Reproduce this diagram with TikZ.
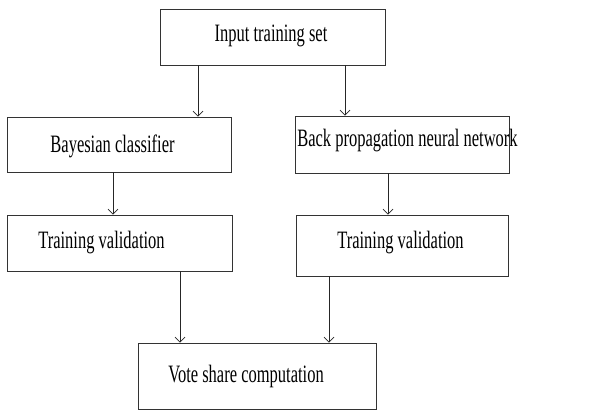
\documentclass[tikz,border=0pt]{standalone}
\usepackage{fontspec}
\setmainfont{Liberation Serif}
\usepackage{graphicx}
\usetikzlibrary{arrows.meta}
\newcommand{\sqz}[1]{\scalebox{0.66}[1]{#1}}
\begin{document}
\begin{tikzpicture}[x=1pt,y=-1pt,
  box/.style={draw=black!80,line width=0.9pt,inner sep=0pt},
  lbl/.style={inner sep=0pt,font=\fontsize{25}{28}\selectfont},
  arr/.style={draw=black!85,line width=0.8pt,-{Straight Barb[length=5pt,width=10pt,line width=0.7pt]}}]
\useasboundingbox (0,0) rectangle (593,410);
\fill[white] (0,0) rectangle (593,410);
% boxes
\node[box,minimum width=225pt,minimum height=56pt] (in) at (272.5,37) {};
\node[box,minimum width=224pt,minimum height=55pt] (bay) at (119,144.5) {};
\node[box,minimum width=214pt,minimum height=57pt] (bp) at (402,144.5) {};
\node[box,minimum width=225pt,minimum height=56pt] (tvl) at (119.5,243) {};
\node[box,minimum width=212pt,minimum height=61pt] (tvr) at (402,245.5) {};
\node[box,minimum width=238pt,minimum height=66pt] (vote) at (257,376) {};
% labels
\node[lbl] (tin) at (271,36) {\sqz{Input training set}};
\node[lbl] (tbay) at (112.5,146) {\sqz{Bayesian classifier}};
\node[lbl] (tbp) at (407.5,141) {\sqz{Back propagation neural network}};
\node[lbl] (ttvl) at (101.5,243) {\sqz{Training validation}};
\node[lbl] (ttvr) at (400.5,243) {\sqz{Training validation}};
\node[lbl] (tvote) at (246,376) {\sqz{Vote share computation}};
% arrow x positions
\coordinate (xa) at (198,0);
\coordinate (xb) at (345,0);
\coordinate (xc) at (113,0);
\coordinate (xd) at (388,0);
\coordinate (xe) at (180,0);
\coordinate (xf) at (329,0);
% connectors
\draw[arr] (in.south -| xa) -- (bay.north -| xa);
\draw[arr] (in.south -| xb) -- (bp.north -| xb);
\draw[arr] (bay.south -| xc) -- (tvl.north -| xc);
\draw[arr] (bp.south -| xd) -- (tvr.north -| xd);
\draw[arr] (tvl.south -| xe) -- (vote.north -| xe);
\draw[arr] (tvr.south -| xf) -- (vote.north -| xf);
\end{tikzpicture}
\end{document}
